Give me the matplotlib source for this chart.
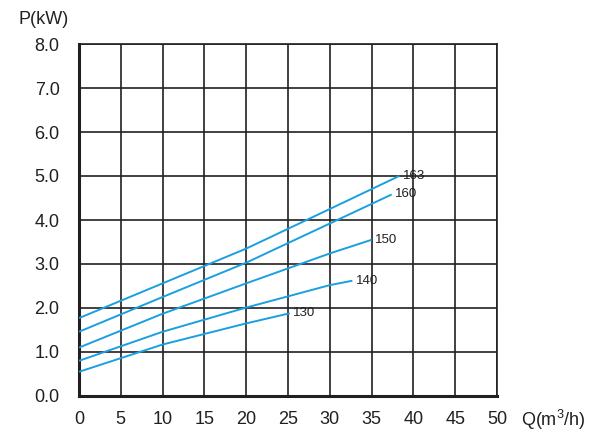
import numpy as np
import matplotlib
matplotlib.use("Agg")
import matplotlib.pyplot as plt

# pump power curves
q_163 = [0, 10, 20, 30, 38.3]
p_163 = [1.77, 2.56, 3.35, 4.25, 5.0]
q_160 = [0, 10, 20, 30, 37.4]
p_160 = [1.46, 2.25, 3.03, 3.92, 4.58]
q_150 = [0, 10, 20, 30, 35]
p_150 = [1.10, 1.87, 2.56, 3.24, 3.55]
q_140 = [0, 10, 20, 30, 32.7]
p_140 = [0.80, 1.46, 2.01, 2.52, 2.62]
q_130 = [0, 10, 20, 25.2]
p_130 = [0.55, 1.17, 1.65, 1.88]

curves = [("163", q_163, p_163), ("160", q_160, p_160), ("150", q_150, p_150),
          ("140", q_140, p_140), ("130", q_130, p_130)]

x_ticks = list(range(0, 51, 5))
y_ticks = [0, 1, 2, 3, 4, 5, 6, 7, 8]

plt.rcParams['font.family'] = ['Liberation Sans', 'DejaVu Sans']
plt.rcParams['mathtext.fontset'] = 'custom'
plt.rcParams['mathtext.rm'] = 'Liberation Sans'
fig = plt.figure(figsize=(6.01, 4.38), dpi=100)
ax = fig.add_axes([79/601, 42/438, 418/601, 352/438])

dark = "#231f20"
blue = "#1aa0df"

for name, q, p in curves:
    ax.plot(q, p, color=blue, lw=1.4, solid_capstyle="butt", zorder=3)
    ax.text(q[-1] + 0.4, p[-1], name, fontsize=9.5, color=dark,
            ha="left", va="center", zorder=4)

ax.set_xlim(0, 50)
ax.set_ylim(0, 8)
ax.set_xticks(x_ticks)
ax.set_yticks(y_ticks)
ax.set_xticklabels([str(v) for v in x_ticks])
ax.set_yticklabels(["%.1f" % v for v in y_ticks])
ax.tick_params(length=0, labelsize=13, colors=dark)
ax.tick_params(axis="y", pad=14)
ax.tick_params(axis="x", pad=11)
ax.grid(True, color=dark, lw=1.2)
ax.set_axisbelow(True)

for side in ["top", "right"]:
    ax.spines[side].set_linewidth(1.2)
    ax.spines[side].set_color(dark)
for side in ["left", "bottom"]:
    ax.spines[side].set_linewidth(2.2)
    ax.spines[side].set_color(dark)

fig.text(18/601, 1 - 20/438, "P(kW)", fontsize=13, color=dark, ha="left", va="center")
fig.text(521/601, 1 - 420/438, "Q(m$^\\mathrm{3}$/h)", fontsize=13, color=dark, ha="left", va="center")

fig.savefig("out.png", dpi=100)
